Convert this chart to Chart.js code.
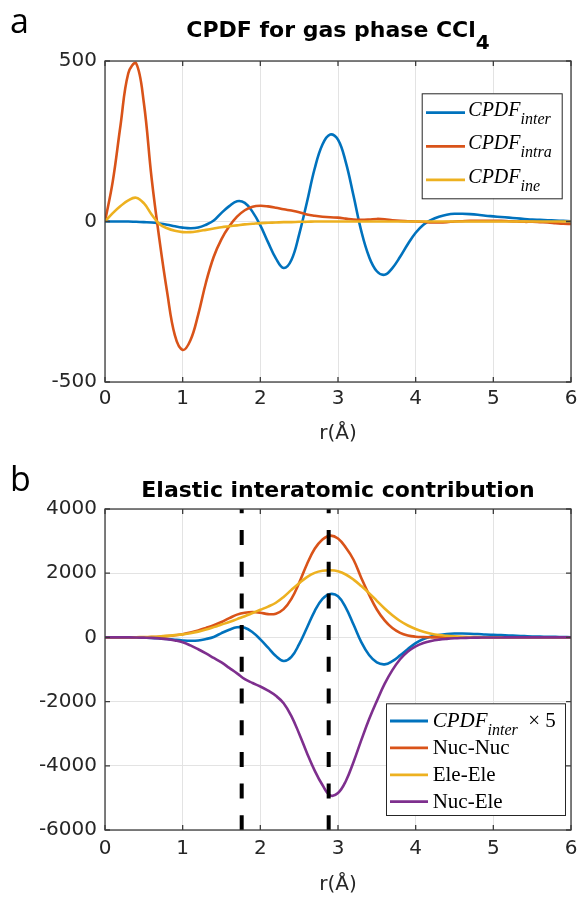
<!DOCTYPE html>
<html>
<head>
<meta charset="utf-8">
<script src="https://cdn.jsdelivr.net/npm/chart.js@4.4.1/dist/chart.umd.min.js"></script>
<style>
html, body { margin: 0; padding: 0; background: #fff; }
#wrap { position: relative; width: 579px; height: 901px; overflow: hidden; }
canvas { position: absolute; left: 0; }
.panel { position: absolute; font-family: 'Open Sans'; font-size: 34px; line-height: 34px; color: #000; }
.title { position: absolute; left: 105px; width: 466px; text-align: center; font-family: 'DejaVu Sans';
  font-weight: bold; font-size: 22px; line-height: 22px; color: #000; white-space: nowrap; }
.title .sub { position: relative; top: 12px; font-size: 20px; }
</style>
</head>
<body>
<div id="wrap">
  <canvas id="topChart" width="579" height="450" style="top:0"></canvas>
  <canvas id="bottomChart" width="579" height="451" style="top:450px"></canvas>
  <div class="panel" style="left:10px; top:3px">a</div>
  <div class="panel" style="left:10px; top:461px">b</div>
  <div class="title" style="top:19px">CPDF for gas phase CCl<span class="sub">4</span></div>
  <div class="title" style="top:479px">Elastic interatomic contribution</div>
</div>
<script>
// r grid (Å), shared by every curve
const rValues = [0,0.1,0.2,0.3,0.4,0.5,0.6,0.7,0.8,0.9,
  1,1.1,1.2,1.3,1.4,1.5,1.6,1.7,1.8,1.9,
  2,2.1,2.2,2.3,2.4,2.5,2.6,2.7,2.8,2.9,
  3,3.1,3.2,3.3,3.4,3.5,3.6,3.7,3.8,3.9,
  4,4.1,4.2,4.3,4.4,4.5,4.6,4.7,4.8,4.9,
  5,5.1,5.2,5.3,5.4,5.5,5.6,5.7,5.8,5.9,6];

// panel a
const cpdfInter = [0,0,0,0,-1,-2,-3,-6,-10,-15,
  -19,-21,-19,-10,3,27,48,63,58,30,
  -12,-65,-115,-145,-120,-40,60,165,240,271,
  255,185,80,-30,-110,-155,-166,-145,-110,-70,
  -35,-10,5,15,21,24,24,23,21,18,
  16,14,12,10,8,6,5,4,3,2,1];
const cpdfIntra = [0,125,300,462,493,370,135,-55,-220,-355,
  -400,-370,-290,-190,-110,-55,-15,15,35,46,
  49,47,43,38,34,29,22,18,15,13,
  12,9,6,5,6,8,7,4,2,1,
  0,-1,-3,-3,-2,0,1,2,2,2,
  2,2,1,0,-1,-1,-2,-3,-5,-7,-8];
const cpdfIne = [0,26,48,66,74,57,22,-8,-21,-29,
  -33,-33,-30,-26,-22,-18,-15,-12,-9,-7,
  -5,-4,-3,-2,-2,-1,-1,0,0,0,
  0,0,0,0,0,0,0,0,0,0,
  0,0,0,0,0,0,0,0,0,0,
  0,0,0,0,0,0,0,0,0,0,0];

// panel b
const cpdfInterX5 = [0,0,0,0,-5,-10,-15,-30,-50,-75,
  -95,-105,-95,-50,15,135,240,315,300,160,
  -60,-320,-580,-735,-610,-210,300,820,1200,1350,
  1280,930,400,-150,-550,-780,-840,-740,-560,-360,
  -180,-50,30,75,105,120,120,115,105,90,
  80,70,60,50,40,30,25,20,15,10,5];
const nucNuc = [0,0,0,0,2,5,12,22,40,65,
  100,150,215,295,380,480,600,710,770,790,
  770,725,740,880,1200,1700,2280,2760,3050,3170,
  3080,2800,2420,1850,1330,870,530,290,140,60,
  22,8,2,0,0,0,0,0,0,0,
  0,0,0,0,0,0,0,0,0,0,0];
const eleEle = [0,0,0,2,5,10,18,30,48,70,
  95,130,180,245,320,400,480,570,660,760,
  860,960,1080,1260,1480,1690,1880,2010,2075,2090,
  2060,1960,1800,1600,1380,1140,900,690,510,370,
  260,175,115,75,50,32,20,13,8,5,
  3,2,1,0,0,0,0,0,0,0,0];
const nucEle = [0,0,0,0,-2,-8,-15,-30,-55,-95,
  -150,-250,-370,-500,-640,-780,-950,-1120,-1300,-1420,
  -1530,-1660,-1820,-2050,-2450,-3000,-3600,-4150,-4600,-4920,
  -4850,-4480,-3880,-3200,-2550,-1980,-1450,-1020,-680,-440,
  -280,-175,-110,-70,-45,-28,-18,-11,-6,-3,
  -2,-1,0,0,0,0,0,0,0,0,0];
const bondR = [1.76, 2.88];   // dashed markers

const topTicksY = [-500, 500, 500];     // min, max, step
const botTicksY = [-6000, 4000, 2000];

const COLORS = ['#0072BD', '#D95319', '#EDB120', '#7E2F8E'];

Chart.defaults.font.family = 'DejaVu Sans';
Chart.defaults.color = '#262626';

function series(vals){ return vals.map((v, i) => ({ x: rValues[i], y: v })); }

function curve(vals, color, order){
  return { data: series(vals), borderColor: color, borderWidth: 2.6, pointRadius: 0,
    tension: 0.4, fill: false, order };
}

function dashed(r, ymin, ymax){
  return { data: [{ x: r, y: ymax }, { x: r, y: ymin }], borderColor: '#000', borderWidth: 4,
    borderDash: [15, 16.7], borderDashOffset: 10.7, pointRadius: 0, tension: 0, order: 0 };
}

function drawLegend(chart, lg){
  const ctx = chart.ctx, a = chart.chartArea;
  const x0 = a.right - lg.right - lg.w, y0 = a.top + lg.top;
  ctx.fillStyle = '#fff';
  ctx.fillRect(x0, y0, lg.w, lg.h);
  ctx.strokeStyle = '#262626'; ctx.lineWidth = 1;
  ctx.strokeRect(x0 + 0.5, y0 + 0.5, lg.w, lg.h);
  lg.items.forEach((parts, i) => {
    const ly = y0 + lg.first + i * lg.step;
    ctx.strokeStyle = COLORS[i]; ctx.lineWidth = 2.8;
    ctx.beginPath(); ctx.moveTo(x0 + lg.lx1, ly); ctx.lineTo(x0 + lg.lx2, ly); ctx.stroke();
    let tx = x0 + lg.tx;
    ctx.fillStyle = '#000'; ctx.textBaseline = 'alphabetic'; ctx.textAlign = 'left';
    parts.forEach(p => {
      const size = p.sub ? 16 : lg.size;
      ctx.font = (p.it ? 'italic ' : '') + size + "px 'Liberation Serif'";
      ctx.fillText(p.t, tx, ly + lg.base + (p.sub ? 8 : 0));
      tx += ctx.measureText(p.t).width;
    });
  });
}

const frame = {
  id: 'frame',
  afterDatasetsDraw(chart, args, opts){
    const { ctx, chartArea: a, scales } = chart;
    ctx.save();
    ctx.strokeStyle = '#3c3c3c'; ctx.lineWidth = 1.3;
    ctx.strokeRect(a.left, a.top, a.right - a.left, a.bottom - a.top);
    ctx.beginPath();
    scales.x.ticks.forEach(t => {
      const px = scales.x.getPixelForValue(t.value);
      ctx.moveTo(px, a.bottom); ctx.lineTo(px, a.bottom - 5);
      ctx.moveTo(px, a.top); ctx.lineTo(px, a.top + 5);
    });
    scales.y.ticks.forEach(t => {
      const py = scales.y.getPixelForValue(t.value);
      ctx.moveTo(a.left, py); ctx.lineTo(a.left + 5, py);
      ctx.moveTo(a.right, py); ctx.lineTo(a.right - 5, py);
    });
    ctx.stroke();
    if (opts.legend) drawLegend(chart, opts.legend);
    ctx.restore();
  }
};

function options(yt, padTop, xHeight, tickPad, legend){
  return {
    responsive: false, animation: false, events: [],
    layout: { padding: { top: padTop, right: 8, left: 0, bottom: 0 } },
    plugins: { legend: { display: false }, tooltip: { enabled: false }, frame: { legend } },
    scales: {
      x: { type: 'linear', min: 0, max: 6,
        ticks: { stepSize: 1, padding: tickPad, font: { size: 20 }, callback: v => String(v) },
        grid: { color: '#e3e3e3', drawTicks: false }, border: { display: false },
        title: { display: true, text: 'r(Å)', font: { size: 20 }, padding: { top: 0, bottom: 4 } },
        afterFit: s => { s.height = xHeight; s.paddingLeft = 0; s.paddingRight = 0; } },
      y: { min: yt[0], max: yt[1],
        ticks: { stepSize: yt[2], padding: 8, font: { size: 20 }, callback: v => String(v) },
        grid: { color: '#e3e3e3', drawTicks: false }, border: { display: false },
        afterFit: s => { s.width = 105; } }
    }
  };
}

new Chart(document.getElementById('topChart'), {
  type: 'line',
  data: { datasets: [
    curve(cpdfInter, COLORS[0], 3),
    curve(cpdfIntra, COLORS[1], 2),
    curve(cpdfIne, COLORS[2], 1)
  ] },
  options: options(topTicksY, 61, 68, 5, {
    right: 9.3, top: 32.3, w: 140, h: 105, first: 19.4, step: 33.6, size: 20,
    lx1: 4.3, lx2: 43.3, tx: 46.6, base: 3,
    items: [
      [{ t: 'CPDF', it: 1 }, { t: 'inter', it: 1, sub: 1 }],
      [{ t: 'CPDF', it: 1 }, { t: 'intra', it: 1, sub: 1 }],
      [{ t: 'CPDF', it: 1 }, { t: 'ine', it: 1, sub: 1 }]
    ] }),
  plugins: [frame]
});

new Chart(document.getElementById('bottomChart'), {
  type: 'line',
  data: { datasets: [
    curve(cpdfInterX5, COLORS[0], 4),
    curve(nucNuc, COLORS[1], 3),
    curve(eleEle, COLORS[2], 2),
    curve(nucEle, COLORS[3], 1),
    ...bondR.map(r => dashed(r, botTicksY[0], botTicksY[1]))
  ] },
  options: options(botTicksY, 59, 71, 7, {
    right: 6, top: 194.3, w: 179, h: 111.7, first: 17.7, step: 26.9, size: 21,
    lx1: 4, lx2: 42, tx: 46.7, base: 6,
    items: [
      [{ t: 'CPDF', it: 1 }, { t: 'inter', it: 1, sub: 1 }, { t: '  \u00d7 5' }],
      [{ t: 'Nuc-Nuc' }],
      [{ t: 'Ele-Ele' }],
      [{ t: 'Nuc-Ele' }]
    ] }),
  plugins: [frame]
});
</script>
</body>
</html>
